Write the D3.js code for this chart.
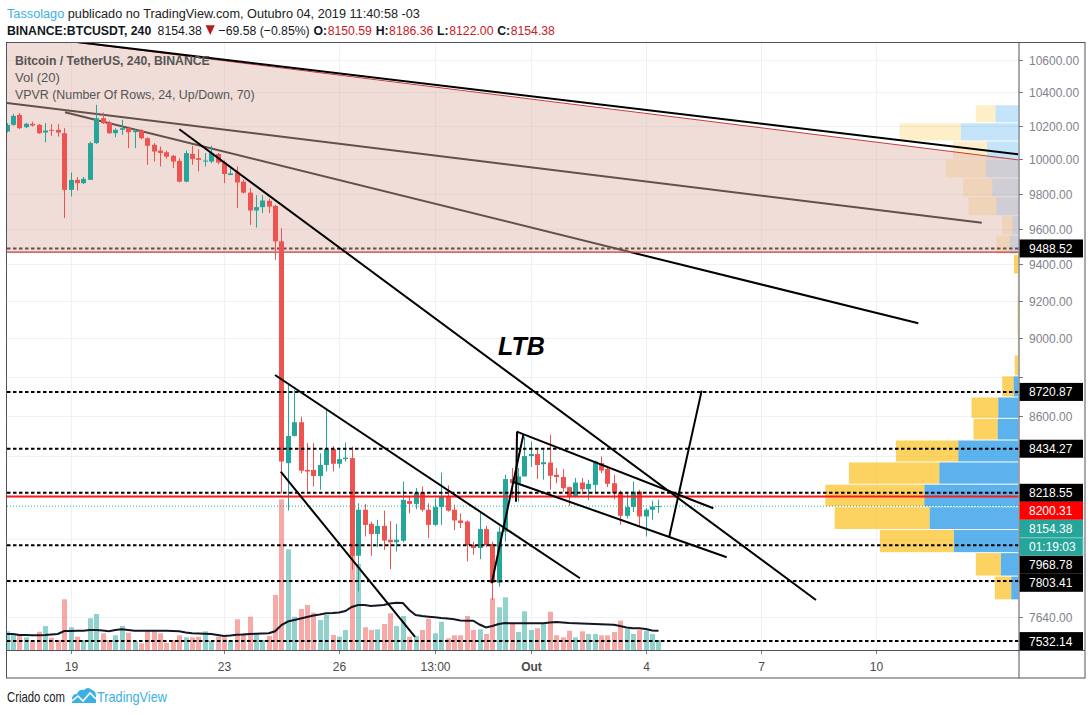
<!DOCTYPE html>
<html><head><meta charset="utf-8">
<script src="https://cdnjs.cloudflare.com/ajax/libs/d3/7.8.5/d3.min.js"></script>
<style>
body{margin:0;background:#fff;}
svg{display:block;font-family:"Liberation Sans",Arial,sans-serif;}
text{white-space:pre;}
</style></head><body>
<svg id="c" width="1092" height="715"></svg>
<script>
// ---------------- DATA ----------------
const opens=[10164,10204,10264,10190,10210,10204,10158,10174,10174,10154,
9821,9879,9860,9879,10095,10244,10218,10154,10174,10184,
10160,10170,10124,10085,10051,10041,10020,9990,9869,10031,
10006,9986,9986,10030,9980,9907,9922,9869,9805,9703,
9722,9758,9729,9528,8363,8498,8567,8330,8330,8300,
8354,8432,8360,8383,8388,7920,8137,8070,8022,8060,
7995,7983,7990,8179,8165,8220,8137,8065,8150,8203,
8137,8086,8081,7970,7956,8045,7975,7795,8033,8285,
8265,8298,8398,8408,8358,8366,8306,8295,8246,8203,
8268,8236,8257,8363,8334,8265,8220,8108,8150,8224,
8105,8137,8150.59];
const highs=[10214,10270,10274,10217,10223,10209,10214,10209,10209,10184,
9922,9896,9896,10104,10325,10278,10229,10184,10234,10194,
10178,10178,10130,10095,10075,10051,10025,10006,10051,10080,
10059,10036,10079,10036,9992,9952,9957,9880,9831,9790,
9790,9770,9735,9602,8762,8732,8595,8462,8462,8412,
8633,8447,8437,8465,8445,8168,8165,8081,8089,8133,
8083,8070,8273,8200,8241,8249,8168,8192,8317,8254,
8161,8119,8086,7986,8126,8060,7986,8057,8306,8339,
8339,8492,8470,8428,8437,8503,8339,8334,8249,8290,
8290,8282,8376,8396,8350,8306,8229,8217,8273,8233,
8145,8180,8186.36];
const lows=[10158,10198,10178,10184,10194,10150,10100,10138,10134,9659,
9783,9817,9855,9879,10090,10209,10150,10130,10144,10065,
10065,10118,9967,9986,9957,10003,9948,9864,9864,9967,
9928,9957,9976,9970,9860,9907,9716,9800,9621,9606,
9688,9688,9425,8218,8133,8495,8314,8224,8249,8233,
8322,8322,8339,8371,7854,7755,8010,7920,7960,7947,
7858,7940,7983,8120,8140,8128,8002,8060,8065,8128,
8040,8050,7893,7924,7904,7960,7717,7777,7986,8192,
8176,8298,8344,8285,8282,8233,8265,8224,8155,8197,
8212,8184,8217,8314,8246,8187,8065,8096,8126,8057,
8010,8089,8122];
const closes=[10204,10258,10184,10210,10200,10154,10170,10168,10158,9821,
9879,9860,9885,10095,10244,10214,10154,10174,10184,10160,
10170,10124,10079,10045,10036,10015,9986,9869,10036,10002,
9996,9992,10036,9980,9913,9917,9864,9805,9703,9722,
9760,9725,9528,8371,8498,8567,8326,8322,8300,8354,
8432,8360,8383,8390,7920,8137,8065,8022,8060,7991,
7983,7995,8184,8165,8217,8137,8065,8150,8203,8133,
8086,8074,7970,7956,8045,7970,7795,8033,8285,8265,
8298,8398,8408,8354,8368,8301,8295,8241,8203,8268,
8236,8262,8371,8327,8262,8217,8108,8150,8224,8105,
8137,8153,8154.38];
const volumes=[1870,1600,1500,1270,1000,1830,2400,1230,1000,5070,
2270,1330,1000,3170,3600,1670,1000,1470,2400,1730,
830,670,1930,2000,1670,730,1000,1470,1270,1270,
1330,1870,930,1330,1270,1000,3070,1670,3330,1600,
1000,1400,5500,15070,10070,3330,4100,4500,3730,3000,
3500,1500,1330,2000,9670,8600,2270,2000,2070,2600,
3670,2400,3400,1330,1400,2000,3130,1670,2830,1170,
1470,1470,3400,2000,2070,1600,5170,4270,5270,2670,
1800,3870,2000,2170,2600,3830,1470,1270,1930,1270,
1870,1600,1600,1470,1470,1800,2930,2130,1600,2000,
1930,1600,1000];
const volMA20=[1600,1600,1500,1500,1470,1470,1500,1550,1600,1900,
1900,1930,1930,2000,2000,1950,1870,2000,2070,2000,
1930,1930,1930,1930,1930,1930,1900,1870,1750,1670,
1650,1630,1600,1500,1400,1450,1530,1550,1600,1630,
1650,1670,1870,2500,2850,3000,3150,3300,3450,3550,
3670,3700,3750,3900,4300,4500,4500,4400,4450,4500,
4650,4730,4700,4000,3500,3400,3330,3270,3200,3150,
3070,2950,2930,2930,2550,2250,2400,2600,2700,2670,
2670,2670,2670,2670,2670,2750,2800,2750,2700,2670,
2650,2630,2600,2570,2550,2530,2400,2250,2170,2170,
2100,1950,1930];
// time axis labels (bar index of the label)
const timeLabels=["19","23","26","13:00","Out","4","7","10"];
const timeLabelBars=[10,34,52,67,82,100,118,136];
const boldTimeLabels=["Out"];
// price axis ticks
const priceTicks=[10600,10400,10200,10000,9800,9600,9400,9200,9000,8800,8600,8400,8200,8000,7800,7640];
// VPVR rows from lowest to highest price (24 rows)
const vpUp  =[730,1770,6470,8900,9430,7930,6030,2100,2030,500,0,0,0,0,0,30,870,630,2230,2630,3300,3130,5770,2300];
const vpDown=[1640,2500,7400,9500,9900,9040,6240,2400,2670,1130,370,70,100,100,70,430,1360,1000,2770,2900,4000,3430,6130,1970];
const vpValueAreaRows=[0,15];
// horizontal levels
const dashedLevels=[9488.52,8720.87,8434.27,8218.55,7968.78,7803.41,7532.14];
const redLevel=8200.31;
const lastPrice=8154.38;
const countdown="01:19:03";
// shaded zone: top edge [bar, price] pair and bottom price
const zoneTop=[[0,10766],[158.3,9996]];
const zoneBottom=9468;
// trend lines [bar, price]
const linesUnderZone=[[[0,10336],[152.6,9633.7]],[[9.12,10280],[142.66,9080]]];
const linesOver=[
 [[0,10766],[158.3,10029]],
 [[27.01,10178],[126.65,7716.5]],
 [[41.99,8808],[89.72,7815.7]],
 [[42.88,8321],[63.9,7550.5]],
 [[75.9,7792.7],[80.85,8502.9]],
 [[79.7,8175.8],[79.86,8519.4]],
 [[79.81,8519.4],[110.58,8144.2]],
 [[79.28,8271.2],[112.68,7912.8]],
 [[103.69,8009.3],[108.76,8727.4]]
];
const ltbText={text:"LTB",bar:76.9,price:8912};

// ---------------- LAYOUT ----------------
const plot={l:7,r:1018.5,t:43,b:650};
const svg=d3.select("#c");
const x=d3.scaleLinear().domain([0,100]).range([6.7,645.7]);
const y=d3.scaleLog().domain([10600,7532.14]).range([60.1,641.1]);
const vy=d3.scaleLinear().domain([0,60700]).range([plot.b,plot.t]);
const UP="#26a69a",DN="#ef5350";

svg.append("rect").attr("width",1092).attr("height",715).attr("fill","#fff");
svg.append("defs").append("clipPath").attr("id","pc").append("rect")
 .attr("x",plot.l).attr("y",plot.t).attr("width",plot.r-plot.l).attr("height",plot.b-plot.t);
const P=svg.append("g").attr("clip-path","url(#pc)");

// grid
P.selectAll(".hg").data(priceTicks).join("line").attr("x1",plot.l).attr("x2",plot.r)
 .attr("y1",d=>Math.round(y(d))+0.5).attr("y2",d=>Math.round(y(d))+0.5).attr("stroke","#eef1f6");
P.selectAll(".vg").data(timeLabelBars).join("line").attr("y1",plot.t).attr("y2",plot.b)
 .attr("x1",d=>Math.round(x(d))+0.5).attr("x2",d=>Math.round(x(d))+0.5).attr("stroke","#eef1f6");

// VPVR
const lo=d3.min(lows),hi=d3.max(highs),step=(hi-lo)/vpUp.length;
const totals=vpUp.map((u,i)=>u+vpDown[i]);
const vw=d3.scaleLinear().domain([0,d3.max(totals)]).range([0,(plot.r-plot.l)*0.191]);
const vpG=P.append("g");
vpUp.forEach((u,i)=>{
 const top=y(lo+(i+1)*step),bot=y(lo+i*step);
 const strong=i>=vpValueAreaRows[0]&&i<=vpValueAreaRows[1];
 const h=Math.max(0.5,bot-top-1);
 vpG.append("rect").attr("x",plot.r-vw(u)).attr("y",top+0.5).attr("width",vw(u)).attr("height",h)
  .attr("fill",strong?"rgba(21,146,230,0.7)":"rgba(21,146,230,0.25)");
 vpG.append("rect").attr("x",plot.r-vw(u+vpDown[i])).attr("y",top+0.5).attr("width",vw(vpDown[i])).attr("height",h)
  .attr("fill",strong?"rgba(251,193,35,0.72)":"rgba(251,193,35,0.25)");
});

// volume
const idx=d3.range(opens.length);
P.selectAll(".vol").data(idx).join("rect")
 .attr("x",i=>Math.round(x(i))-2).attr("width",5)
 .attr("y",i=>vy(volumes[i])).attr("height",i=>plot.b-vy(volumes[i]))
 .attr("fill",i=>closes[i]>=opens[i]?"rgba(38,166,154,0.5)":"rgba(239,83,80,0.5)");
P.append("path").datum(idx).attr("fill","none").attr("stroke","#131722").attr("stroke-width",2)
 .attr("d",d3.line().x(i=>x(i)).y(i=>vy(volMA20[i])));

// lines under the zone
const seg=d=>d3.line().x(p=>x(p[0])).y(p=>y(p[1]))(d);
linesUnderZone.forEach(l=>P.append("path").attr("d",seg(l)).attr("stroke","#000").attr("stroke-width",2).attr("fill","none"));
P.append("line").attr("x1",plot.l).attr("x2",plot.r).attr("y1",y(dashedLevels[0])).attr("y2",y(dashedLevels[0]))
 .attr("stroke","#000").attr("stroke-width",2).attr("stroke-dasharray","3.5 2.5");

// shaded zone
const zp=[[zoneTop[0][0]-1,zoneTop[0][1]],[zoneTop[1][0],zoneTop[1][1]],[zoneTop[1][0],zoneBottom],[zoneTop[0][0]-1,zoneBottom]];
P.append("path").attr("d",d3.line().x(p=>x(p[0])).y(p=>y(p[1]))(zp)+"Z").attr("fill","rgba(224,179,168,0.447)");
P.append("path").attr("d",seg(zoneTop)).attr("stroke","#c43c3c").attr("stroke-width",1).attr("fill","none");
P.append("line").attr("x1",plot.l).attr("x2",plot.r).attr("y1",y(zoneBottom)).attr("y2",y(zoneBottom)).attr("stroke","#c43c3c").attr("stroke-width",1.2);

// candles
const cg=P.append("g");
idx.forEach(i=>{
 const cx=Math.round(x(i))+0.5, up=closes[i]>=opens[i], col=up?UP:DN;
 cg.append("line").attr("x1",cx).attr("x2",cx).attr("y1",y(highs[i])).attr("y2",y(lows[i])).attr("stroke",col).attr("stroke-width",1);
 const t=y(Math.max(opens[i],closes[i])),b=y(Math.min(opens[i],closes[i]));
 cg.append("rect").attr("x",cx-2.5).attr("width",5).attr("y",t).attr("height",Math.max(1,b-t)).attr("fill",col);
});

// horizontal levels
dashedLevels.slice(1).forEach(p=>P.append("line").attr("x1",plot.l).attr("x2",plot.r).attr("y1",y(p)).attr("y2",y(p))
 .attr("stroke","#000").attr("stroke-width",2).attr("stroke-dasharray","3.5 2.5"));
P.append("line").attr("x1",plot.l).attr("x2",plot.r).attr("y1",y(redLevel)).attr("y2",y(redLevel)).attr("stroke","#ff1a1a").attr("stroke-width",2);
P.append("line").attr("x1",plot.l).attr("x2",plot.r).attr("y1",y(lastPrice)).attr("y2",y(lastPrice)).attr("stroke",UP).attr("stroke-width",1).attr("stroke-dasharray","1 2");

// trend lines over
linesOver.forEach(l=>P.append("path").attr("d",seg(l)).attr("stroke","#000").attr("stroke-width",2).attr("fill","none"));
P.append("text").attr("x",x(ltbText.bar)).attr("y",y(ltbText.price)).attr("font-size",25).attr("font-weight","bold")
 .attr("font-style","italic").attr("fill","#000").text(ltbText.text);

// text helpers: runs of text (gap = leading space in em) drawn at natural width,
// then the whole group is condensed horizontally to span the target width
function runs(g,x0,yb,arr,size){
 let cx=x0;
 arr.forEach(r=>{
  const s=size*(r.k||1);
  cx+=(r.gap||0)*s;
  if(r.tri){const w=0.75*s;g.append("path").attr("d",`M${cx},${yb-0.72*s}L${cx+w},${yb-0.72*s}L${cx+w/2},${yb}Z`).attr("fill",r.c);cx+=w;return;}
  const t=g.append("text").attr("x",cx).attr("y",yb).attr("font-size",s).attr("font-weight",r.b?"bold":"normal")
   .attr("fill",r.c||"#131722").text(r.t);
  cx+=t.node().getComputedTextLength();
 });
 return cx-x0;
}
function fitRuns(x0,yb,arr,size,target){
 const g=svg.append("g");
 const w=runs(g,x0,yb,arr,size);
 const f=Math.min(1.05,target/w);
 g.attr("transform",`translate(${x0},0) scale(${f},1) translate(${-x0},0)`);
 return g;
}

// legend
const LG="#555";
fitRuns(15,65,[{t:"Bitcoin / TetherUS, 240, BINANCE",b:1,c:LG}],13,195);
fitRuns(15,82,[{t:"Vol (20)",c:LG}],13,45);
fitRuns(15,99,[{t:"VPVR (Number Of Rows, 24, Up/Down, 70)",c:LG}],13,240);

// price axis
const ax=svg.append("g");
let labs=dashedLevels.map(p=>({p,t:d3.format(".2f")(p),bg:"#000",ny:y(p),o:0}));
labs.push({p:redLevel,t:d3.format(".2f")(redLevel),bg:"#ff0000",ny:y(redLevel),o:0});
labs.push({p:lastPrice,t:d3.format(".2f")(lastPrice),bg:UP,ny:y(lastPrice),o:0});
labs.push({p:lastPrice,t:countdown,bg:UP,ny:y(lastPrice),o:1});
labs.sort((a,b)=>a.ny-b.ny||a.o-b.o);
let prev=-1e9;
labs.forEach(l=>{l.y=Math.max(l.ny,prev+18);prev=l.y;});
priceTicks.forEach(p=>{
 const yy=Math.round(y(p))+0.5;
 ax.append("line").attr("x1",1019).attr("x2",1023).attr("y1",yy).attr("y2",yy).attr("stroke","#787b86");
 const covered=labs.some(l=>Math.abs(l.y-yy)<15);
 if(!covered) ax.append("text").attr("x",1029).attr("y",yy+4.5).attr("font-size",12).attr("fill","#80838d").text(d3.format(".2f")(p));
});
labs.forEach(l=>{
 ax.append("rect").attr("x",1019.5).attr("y",l.y-9).attr("width",63.5).attr("height",18).attr("fill",l.bg)
  .attr("stroke",l.o?"#7fd0c8":"none").attr("stroke-width",1);
 ax.append("text").attr("x",1029).attr("y",l.y+4.5).attr("font-size",12).attr("fill","#fff").text(l.t);
});

// time axis
timeLabels.forEach((t,k)=>{
 const xx=Math.round(x(timeLabelBars[k]))+0.5;
 ax.append("line").attr("x1",xx).attr("x2",xx).attr("y1",650).attr("y2",654).attr("stroke","#787b86");
 ax.append("text").attr("x",xx).attr("y",671).attr("text-anchor","middle").attr("font-size",12)
  .attr("font-weight",boldTimeLabels.includes(t)?"bold":"normal").attr("fill","#4a4a4a").text(t);
});

// frame
const fr=svg.append("g").attr("stroke","#50535e").attr("fill","none").attr("stroke-width",1);
fr.append("rect").attr("x",6.5).attr("y",42.5).attr("width",1078.5).attr("height",635.5);
fr.append("line").attr("x1",1019).attr("x2",1019).attr("y1",43).attr("y2",678);
fr.append("line").attr("x1",7).attr("x2",1085).attr("y1",650.5).attr("y2",650.5);

// header
const RED="#c8201e";
fitRuns(7,18,[{t:"Tassolago",c:"#3bb0e2"},{t:"publicado no TradingView.com, Outubro 04, 2019 11:40:58 -03",c:"#222",gap:0.28}],13.5,413);
fitRuns(7,35,[{t:"BINANCE:BTCUSDT, 240",b:1},{t:"8154.38",gap:0.5},{tri:1,c:"#b71c1c",gap:0.3},{t:"\u221269.58 (\u22120.85%)",gap:0.3},
 {t:"O:",b:1,gap:0.3},{t:"8150.59",c:RED,gap:0.04},{t:"H:",b:1,gap:0.3},{t:"8186.36",c:RED,gap:0.04},{t:"L:",b:1,gap:0.3},{t:"8122.00",c:RED,gap:0.04},{t:"C:",b:1,gap:0.3},{t:"8154.38",c:RED,gap:0.04}],13.5,548);

// footer
fitRuns(7,702,[{t:"Criado com",c:"#222"}],14,58);
const lgo=svg.append("g").attr("fill","#3bb0e2");
lgo.append("path").attr("d","M72,703 L72,699 Q72,694 77,694 Q79,689 84,690 Q88,686 92,690 Q96,691 96,696 L96,703 Z");
lgo.append("path").attr("d","M72,701 L78,696 L83,701 L90,693 L96,699").attr("stroke","#fff").attr("stroke-width",1.6).attr("fill","none");
fitRuns(97,702,[{t:"TradingView",c:"#3bb0e2"}],14,70);
</script></body></html>
